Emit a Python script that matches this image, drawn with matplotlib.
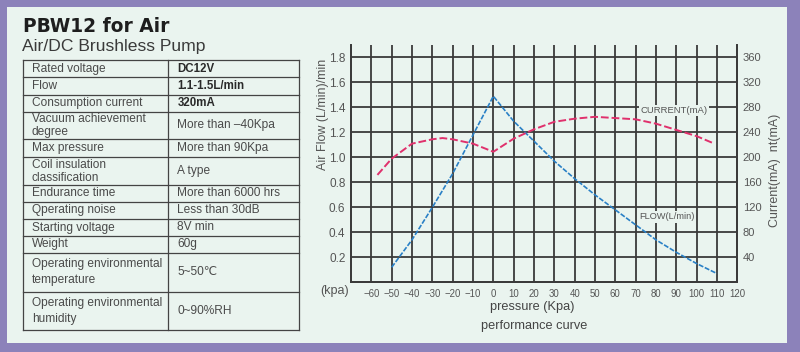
import matplotlib
matplotlib.use("Agg")
import matplotlib.pyplot as plt
from matplotlib.patches import Rectangle
from matplotlib.lines import Line2D

plt.rcParams['font.family'] = ['Liberation Sans', 'DejaVu Sans']
plt.rcParams['axes.unicode_minus'] = True

# ---------------- data ----------------
title = "PBW12 for Air"
subtitle = "Air/DC Brushless Pump"
spec_labels = ["Rated voltage", "Flow", "Consumption current",
               "Vacuum achievement\ndegree", "Max pressure",
               "Coil insulation\nclassification", "Endurance time",
               "Qperating noise", "Starting voltage", "Weight",
               "Operating environmental\ntemperature",
               "Operating environmental\nhumidity"]
spec_values = ["DC12V", "1.1-1.5L/min", "320mA", "More than \u201340Kpa",
               "More than 90Kpa", "A type", "More than 6000 hrs",
               "Less than 30dB", "8V min", "60g", "5~50\u2103", "0~90%RH"]
spec_bold = [True, True, True] + [False] * 9

flow_p = [-50, -40, -30, -20, -10, 0, 10, 20, 30, 40, 50, 60, 70, 80, 90, 100, 110]
flow_v = [0.12, 0.34, 0.60, 0.87, 1.18, 1.49, 1.29, 1.13, 0.97, 0.83, 0.70,
          0.58, 0.46, 0.34, 0.24, 0.15, 0.07]

current_p = [-57, -50, -40, -30, -25, -20, -10, 0, 10, 20, 30, 40, 50, 60,
             70, 80, 90, 100, 108]
current_v = [172, 198, 222, 229, 231, 229, 222, 209, 230, 245, 257, 262, 265,
             263, 261, 254, 244, 234, 223]

x_ticks = list(range(-60, 121, 10))
flow_ticks = [0.2, 0.4, 0.6, 0.8, 1.0, 1.2, 1.4, 1.6, 1.8]
current_ticks = list(range(40, 361, 40))

# ---------------- layout / style ----------------
W, H = 800, 352
border = "#8c82ba"
bg = "#eaf4ef"
txt = "#4a4a4a"
gridc = "#3a3a3a"
blue = "#2a80c6"
red = "#e0306c"

row_edges = [60, 77.3, 94.7, 111.7, 139, 157.3, 185, 201.7, 219, 236,
             252.7, 291.7, 330]
col_edges = [22.7, 168.3, 299.3]

fig = plt.figure(figsize=(8, 3.52), dpi=100)
fig.patch.set_facecolor(border)

base = fig.add_axes([0, 0, 1, 1], zorder=0)
base.set_xlim(0, W)
base.set_ylim(H, 0)
base.axis('off')
base.add_patch(Rectangle((7.3, 6.7), 787.3 - 7.3, 343.3 - 6.7,
                         facecolor=bg, edgecolor='none'))

base.text(23, 26, title, family='DejaVu Sans', fontweight='bold',
          fontsize=13.4, color='#1e1e1e', va='center', ha='left')
base.text(22.5, 47, subtitle, fontsize=12.6, color='#3a3a3a',
          va='center', ha='left')

# table lines
for y in row_edges:
    base.add_line(Line2D([col_edges[0], col_edges[-1]], [y, y],
                         color='#444444', lw=0.9))
for x in col_edges:
    base.add_line(Line2D([x, x], [row_edges[0], row_edges[-1]],
                         color='#444444', lw=0.9))

for i, (lab, val) in enumerate(zip(spec_labels, spec_values)):
    yc = (row_edges[i] + row_edges[i + 1]) / 2
    tall = (row_edges[i + 1] - row_edges[i]) > 35
    ls = 1.45 if tall else 1.08
    base.text(col_edges[0] + 9, yc, lab, fontsize=8.6, color=txt,
              va='center', ha='left', linespacing=ls)
    base.text(col_edges[1] + 9, yc, val, fontsize=8.3 if spec_bold[i] else 8.6,
              color='#2a2a2a' if spec_bold[i] else txt,
              fontweight='bold' if spec_bold[i] else 'normal',
              va='center', ha='left')

# ---------------- chart ----------------
x0, x1, ytop, ybot = 351, 737.3, 45, 282.3
ax = fig.add_axes([x0 / W, 1 - ybot / H, (x1 - x0) / W, (ybot - ytop) / H],
                  zorder=2)
ax.set_facecolor('none')
ax.set_xlim(-70, 120)
ax.set_ylim(0, 1.9)
ax.set_xticks(x_ticks)
ax.set_xticklabels([str(v).replace('-', '\u2212') for v in x_ticks])
ax.set_yticks(flow_ticks)
ax.set_yticklabels([f"{v:.1f}" for v in flow_ticks])
ax.grid(True, color=gridc, lw=1.3)
ax.set_axisbelow(True)
ax.tick_params(axis='both', length=0, colors='#555555')
ax.tick_params(axis='y', labelsize=8.5, pad=4)
ax.tick_params(axis='x', labelsize=6.9, pad=4.5)
for s in ['left', 'right', 'bottom']:
    ax.spines[s].set_color(gridc)
    ax.spines[s].set_linewidth(1.3)
ax.spines['top'].set_visible(False)

ax.plot(flow_p, flow_v, color=blue, lw=1.2, dashes=(3.0, 1.0), zorder=3)

ax2 = ax.twinx()
ax2.set_ylim(0, 380)
ax2.set_yticks(current_ticks)
ax2.tick_params(axis='y', length=0, labelsize=8, colors='#555555', pad=4)
for s in ['left', 'right', 'bottom']:
    ax2.spines[s].set_color(gridc)
    ax2.spines[s].set_linewidth(1.3)
ax2.spines['top'].set_visible(False)
ax2.plot(current_p, current_v, color=red, lw=1.4, dashes=(4.0, 1.5), zorder=3)

# overlay for annotations
top = fig.add_axes([0, 0, 1, 1], zorder=10)
top.set_xlim(0, W)
top.set_ylim(H, 0)
top.axis('off')
top.patch.set_visible(False)

bb = dict(facecolor=bg, edgecolor='none', pad=1.0)
top.text(674, 110.5, "CURRENT(mA)", fontsize=6.8, color='#555555',
         ha='center', va='center', bbox=bb)
top.text(667, 216.7, "FLOW(L/min)", fontsize=6.7, color='#555555',
         ha='center', va='center', bbox=bb)

top.text(323, 114, "Air Flow (L/min)/min", rotation=90, fontsize=9,
         color='#555555', ha='center', va='center')
top.text(775, 170, "Current(mA)  nt(mA)", rotation=90, fontsize=9,
         color='#555555', ha='center', va='center')
top.text(335, 291, "(kpa)", fontsize=9, color='#555555',
         ha='center', va='center')
top.text(532, 306.7, "pressure (Kpa)", fontsize=9.2, color='#444444',
         ha='center', va='center')
top.text(534, 326, "performance curve", fontsize=9.2, color='#444444',
         ha='center', va='center')

fig.savefig("out.png", dpi=100, facecolor=fig.get_facecolor())
